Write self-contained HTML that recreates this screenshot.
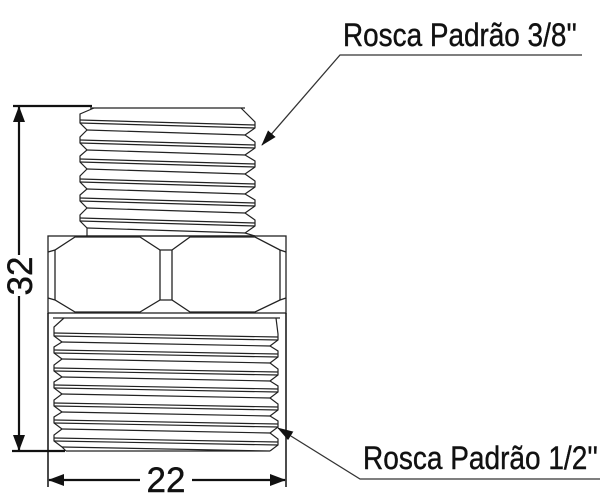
<!DOCTYPE html>
<html><head><meta charset="utf-8"><style>
html,body{margin:0;padding:0;background:#fff;width:600px;height:499px;overflow:hidden}
text{font-family:"Liberation Sans Narrow","Liberation Sans",sans-serif;fill:#111;stroke:#111;stroke-width:0.4}
</style></head><body>
<svg width="600" height="499" viewBox="0 0 600 499" xmlns="http://www.w3.org/2000/svg">
<defs><marker id="a" markerWidth="16" markerHeight="12" refX="15" refY="6" orient="auto" markerUnits="userSpaceOnUse"><path d="M0,1 L16,6 L0,11 z" fill="#111"/></marker>
<marker id="b" markerWidth="16" markerHeight="12" refX="15" refY="6" orient="auto" markerUnits="userSpaceOnUse"><path d="M0,0 L16,6 L0,12 z" fill="#111"/></marker></defs>
<g fill="none" stroke="#222" stroke-width="1.2">
<polyline points="94,108 80,114 80,117 80,123 87,130 80,137 80,143 87,150 80,156 80,162 87,169 80,176 80,182 87,189 80,195 80,201 87,208 80,215 80,221 87,228 87,236"/>
<polyline points="241,108 255,122 255,128 245,135 255,142 255,148 245,155 255,161 255,167 245,174 255,181 255,187 245,194 255,200 255,206 245,213 255,220 255,226 245,233 255,236"/>
<path d="M90,108 L245,108 M86,236 L255,236
M80,120 L255,125 M87,130 L245,135 M80,123 L255,128
M80,140 L255,145 M87,150 L245,155 M80,143 L255,148
M80,159 L255,164 M87,169 L245,174 M80,162 L255,167
M80,179 L255,184 M87,189 L245,194 M80,182 L255,187
M80,198 L255,203 M87,208 L245,213 M80,201 L255,206
M80,218 L255,223 M87,228 L245,233 M80,221 L255,226"/>
<polyline points="64,318 54,327 54,330 54,336 62,342 54,347 54,353 62,359 54,365 54,371 62,377 54,382 54,388 62,394 54,400 54,406 62,412 54,417 54,423 62,429 54,435 54,441 62,447 66,451"/>
<polyline points="276,318 278,334 278,340 270,346 278,351 278,357 270,363 278,369 278,375 270,381 278,386 278,392 270,398 278,404 278,410 270,416 278,421 278,427 270,433 278,439 278,445 270,451"/>
<path d="M53,318 L280,318 M66,451 L270,451
M54,333 L278,337 M62,342 L270,346 M54,336 L278,340
M54,350 L278,354 M62,359 L270,363 M54,353 L278,357
M54,368 L278,372 M62,377 L270,381 M54,371 L278,375
M54,385 L278,389 M62,394 L270,398 M54,388 L278,392
M54,403 L278,407 M62,412 L270,416 M54,406 L278,410
M54,420 L278,424 M62,429 L270,433 M54,423 L278,427
M54,438 L278,442 M62,447 L270,451 M54,441 L278,445"/>
</g>
<g fill="none" stroke="#222" stroke-width="1.3">
<rect x="48" y="236" width="238" height="77"/>
<line x1="55" y1="250" x2="55" y2="300"/><line x1="280" y1="250" x2="280" y2="300"/>
<polyline points="48,252 55,250 75,237 140,237 160,250 172,250 190,237 255,237 280,250 286,252"/>
<polyline points="48,298 55,300 75,312 140,312 160,300 172,300 190,312 255,312 280,300 286,298"/>
<line x1="160" y1="250" x2="160" y2="300"/><line x1="172" y1="250" x2="172" y2="300"/>
</g>
<g stroke="#111" stroke-width="2.2" fill="none">
<line x1="13" y1="106" x2="92" y2="106"/>
<line x1="12" y1="451" x2="65" y2="451"/>
<line x1="19" y1="255" x2="19" y2="107" marker-end="url(#b)"/>
<line x1="19" y1="296" x2="19" y2="450" marker-end="url(#b)"/>
<line x1="48" y1="313" x2="48" y2="487" stroke-width="1.5"/>
<line x1="286" y1="313" x2="286" y2="487" stroke-width="1.5"/>
<line x1="140" y1="480" x2="49" y2="480" marker-end="url(#b)"/>
<line x1="192" y1="480" x2="285" y2="480" marker-end="url(#b)"/>
</g>
<text x="166" y="492" font-size="35" text-anchor="middle">22</text>
<text transform="translate(32,276) rotate(-90)" font-size="35" text-anchor="middle">32</text>
<g stroke="#333" stroke-width="1.3" fill="none">
<polyline points="582,55 340,55 262,145" marker-end="url(#a)"/>
<polyline points="600,479 360,479 278,428" marker-end="url(#a)"/>
</g>
<text x="343" y="46" font-size="32" textLength="234" lengthAdjust="spacingAndGlyphs">Rosca Padrão 3/8''</text>
<text x="363" y="469" font-size="32" textLength="235" lengthAdjust="spacingAndGlyphs">Rosca Padrão 1/2''</text>
</svg>
</body></html>
